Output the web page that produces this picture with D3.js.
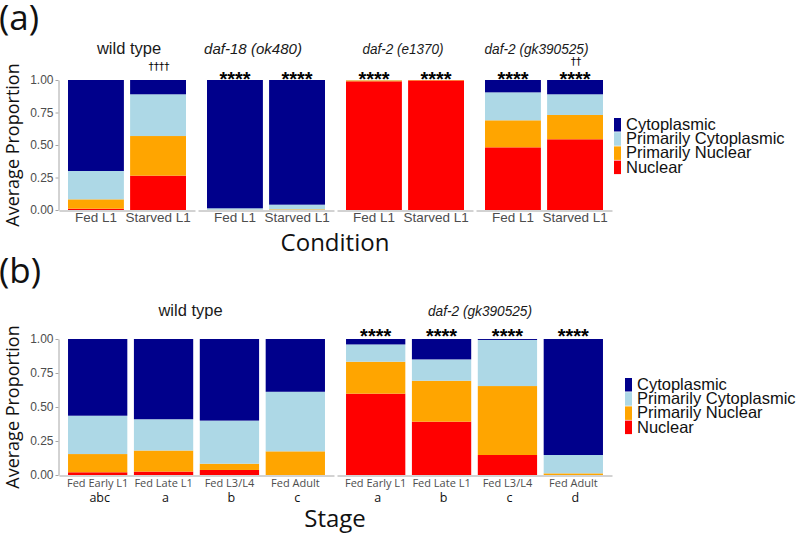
<!DOCTYPE html>
<html><head><meta charset="utf-8">
<script src="https://cdn.jsdelivr.net/npm/d3@7"></script>
<style>body{margin:0;background:#fff} svg{display:block}</style>
</head><body><svg id="chart" width="799" height="533"></svg>
<script>
// ---------- data ----------
const seriesKeys = ["Nuclear", "Primarily Nuclear", "Primarily Cytoplasmic", "Cytoplasmic"];
const seriesColors = ["#FF0000", "#FFA500", "#ADD8E6", "#00008B"];
const legendOrder = ["Cytoplasmic", "Primarily Cytoplasmic", "Primarily Nuclear", "Nuclear"];
const yTickValues = [0, 0.25, 0.5, 0.75, 1];
const yTickLabels = ["0.00", "0.25", "0.50", "0.75", "1.00"];

// Panel (a)
const genotypesA = ["wild type", "daf-18 (ok480)", "daf-2 (e1370)", "daf-2 (gk390525)"];
const conditionsA = ["Fed L1", "Starved L1"];
const nuclearA     = [0.010, 0.264, 0.000, 0.000, 0.990, 0.997, 0.482, 0.544];
const primNuclearA = [0.072, 0.305, 0.002, 0.005, 0.008, 0.003, 0.208, 0.187];
const primCytoA    = [0.218, 0.321, 0.011, 0.036, 0.002, 0.000, 0.215, 0.159];
const cytoA        = [0.700, 0.110, 0.987, 0.959, 0.000, 0.000, 0.095, 0.110];
const starsA   = ["", "", "****", "****", "****", "****", "****", "****"];
const daggersA = ["", "††††", "", "", "", "", "", "††"];

// Panel (b)
const genotypesB = ["wild type", "daf-2 (gk390525)"];
const stagesB = ["Fed Early L1", "Fed Late L1", "Fed L3/L4", "Fed Adult"];
const nuclearB     = [0.020, 0.025, 0.037, 0.000, 0.598, 0.392, 0.147, 0.000];
const primNuclearB = [0.134, 0.155, 0.046, 0.174, 0.235, 0.301, 0.507, 0.012];
const primCytoB    = [0.282, 0.230, 0.317, 0.438, 0.127, 0.157, 0.339, 0.135];
const cytoB        = [0.564, 0.590, 0.600, 0.388, 0.040, 0.150, 0.007, 0.853];
const starsB   = ["", "", "", "", "****", "****", "****", "****"];
const lettersB = ["abc", "a", "b", "c", "a", "b", "c", "d"];

// ---------- drawing ----------
const svg = d3.select("#chart");
svg.append("rect").attr("width", 799).attr("height", 533).attr("fill", "#fff");
const color = d3.scaleOrdinal().domain(seriesKeys).range(seriesColors);
const AX = "#a6a6a6", TICK_TXT = "#4d4d4d";

function buildRows(groups, cats, n, pn, pc, c) {
  const rows = [];
  groups.forEach((g, gi) => cats.forEach((cat, ci) => {
    const i = gi * cats.length + ci;
    rows.push({group: g, cat: cat, idx: i,
      "Nuclear": n[i], "Primarily Nuclear": pn[i], "Primarily Cytoplasmic": pc[i], "Cytoplasmic": c[i]});
  }));
  return rows;
}

function drawPanel(cfg) {
  const g = svg.append("g");
  const y = d3.scaleLinear().domain([0, 1]).range([cfg.yBottom, cfg.yTop]);
  const fx = d3.scaleBand().domain(cfg.groups).range([59, 612]).paddingInner(cfg.facetGap);
  const bx = d3.scaleBand().domain(cfg.cats).range([0, fx.bandwidth()])
    .paddingInner(0.1).paddingOuter(cfg.outer);
  const rows = buildRows(cfg.groups, cfg.cats, cfg.n, cfg.pn, cfg.pc, cfg.c);
  const stacked = d3.stack().keys(seriesKeys)(rows);
  const barX = d => fx(d.group) + bx(d.cat);

  g.selectAll("g.layer").data(stacked).join("g")
    .attr("fill", s => color(s.key))
    .selectAll("rect").data(s => s).join("rect")
    .attr("x", d => barX(d.data))
    .attr("width", bx.bandwidth())
    .attr("y", d => y(d[1]))
    .attr("height", d => Math.max(0, y(d[0]) - y(d[1])));

  // y axis
  const ya = g.append("g").attr("transform", `translate(58.5,0)`)
    .call(d3.axisLeft(y).tickValues(yTickValues).tickFormat((d, i) => yTickLabels[i]).tickSize(3).tickSizeOuter(0).tickPadding(2));
  ya.select(".domain").attr("stroke", AX);
  ya.selectAll(".tick line").attr("stroke", AX);
  ya.selectAll(".tick text").attr("fill", TICK_TXT).attr("font-family", "Liberation Sans, Arial, sans-serif").attr("font-size", 12);

  // x axes per facet
  cfg.groups.forEach(gr => {
    const xa = g.append("g").attr("transform", `translate(${fx(gr)},${cfg.yBottom + 0.5})`)
      .call(d3.axisBottom(bx).tickSize(0).tickSizeOuter(0).tickPadding(0));
    xa.select(".domain").attr("stroke", AX);
    xa.selectAll(".tick text").attr("dy", 0).attr("y", cfg.tickBase)
      .attr("fill", TICK_TXT).attr("font-family", cfg.tickFont).attr("font-size", cfg.tickSize);
  });

  // facet strip labels
  cfg.groups.forEach((gr, i) => {
    const t = g.append("text").attr("x", cfg.labelX[i]).attr("y", cfg.labelY)
      .attr("text-anchor", "middle").attr("font-family", "Liberation Sans, Arial, sans-serif")
      .attr("fill", "#1a1a1a").text(gr);
    if (gr === "wild type") {
      t.attr("font-size", 16.5);
    } else {
      t.attr("font-size", 15).attr("font-style", "italic")
        .attr("textLength", cfg.labelW[i]).attr("lengthAdjust", "spacingAndGlyphs");
    }
  });

  // annotations
  rows.forEach(r => {
    const cx = barX(r) + bx.bandwidth() / 2;
    if (cfg.stars[r.idx]) g.append("text").attr("x", cx).attr("y", cfg.starY)
      .attr("text-anchor", "middle").attr("font-family", "Liberation Sans, Arial, sans-serif")
      .attr("font-size", 20).attr("font-weight", "bold").attr("fill", "#000").text(cfg.stars[r.idx]);
    if (cfg.daggers && cfg.daggers[r.idx]) g.append("text").attr("x", cx + 1)
      .attr("y", r.idx === 1 ? cfg.daggerY1 : cfg.daggerY2)
      .attr("text-anchor", "middle").attr("font-family", "DejaVu Sans, sans-serif")
      .attr("font-size", 10.5).attr("fill", "#000").attr("stroke", "none").text(cfg.daggers[r.idx]);
    if (cfg.letters) g.append("text").attr("x", cx + 2).attr("y", cfg.letterY)
      .attr("text-anchor", "middle").attr("font-family", "Open Sans, sans-serif")
      .attr("font-size", 12.5).attr("fill", "#111").text(cfg.letters[r.idx]);
  });

  // y title
  const ymid = (cfg.yTop + cfg.yBottom) / 2;
  g.append("text").attr("transform", `translate(19,${ymid}) rotate(-90)`)
    .attr("text-anchor", "middle").attr("font-family", "Open Sans, sans-serif")
    .attr("font-size", 18).attr("fill", "#111").text("Average Proportion");
  // x title
  g.append("text").attr("x", 335).attr("y", cfg.xTitleY).attr("text-anchor", "middle")
    .attr("font-family", "Open Sans, sans-serif").attr("font-size", 24).attr("fill", "#111").text(cfg.xTitle);
  // panel tag
  g.append("text").attr("x", -1).attr("y", cfg.tagY).attr("font-family", "Open Sans, sans-serif")
    .attr("font-size", 35).attr("fill", "#111").text(cfg.tag);

  // legend
  const lg = g.append("g").attr("transform", `translate(${cfg.legX},${cfg.legY})`);
  legendOrder.forEach((k, i) => {
    lg.append("rect").attr("x", 0).attr("y", i * 14.2).attr("width", 7).attr("height", 13.5).attr("fill", color(k));
    lg.append("text").attr("x", 12).attr("y", i * 14.2 + 12).attr("font-family", "Liberation Sans, Arial, sans-serif")
      .attr("font-size", 16.5).attr("fill", "#111").text(k);
  });
}

drawPanel({
  groups: genotypesA, cats: conditionsA, n: nuclearA, pn: primNuclearA, pc: primCytoA, c: cytoA,
  yTop: 80, yBottom: 210, facetGap: 0.0216, outer: 0.145,
  tickBase: 11.5, tickFont: "Liberation Sans, Arial, sans-serif", tickSize: 13.5,
  labelX: [129, 253, 403, 536.5], labelW: [0, 98, 81, 104], labelY: 54,
  stars: starsA, starY: 86, daggers: daggersA, daggerY1: 70, daggerY2: 64.5,
  xTitle: "Condition", xTitleY: 251, tag: "(a)", tagY: 30,
  legX: 614, legY: 118
});

drawPanel({
  groups: genotypesB, cats: stagesB, n: nuclearB, pn: primNuclearB, pc: primCytoB, c: cytoB,
  yTop: 339, yBottom: 475, facetGap: 0.0108, outer: 0.137,
  tickBase: 11, tickFont: "Open Sans, sans-serif", tickSize: 11,
  labelX: [190.5, 480], labelW: [0, 104], labelY: 316,
  stars: starsB, starY: 342.5, letters: lettersB, letterY: 502,
  xTitle: "Stage", xTitleY: 527, tag: "(b)", tagY: 283,
  legX: 625, legY: 378
});
</script></body></html>
